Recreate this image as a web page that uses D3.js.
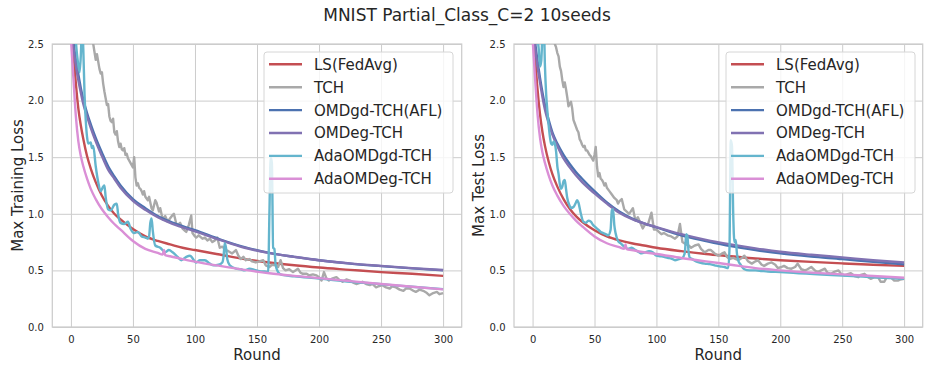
<!DOCTYPE html>
<html lang="en">
<head>
<meta charset="UTF-8">
<title>MNIST Partial_Class_C=2 10seeds</title>
<script src="https://cdn.jsdelivr.net/npm/d3@7"></script>
<style>
    body {
        margin: 0;
        background: white;
    }
    svg text {
        font-family: "DejaVu Sans", sans-serif;
        fill: #262626;
    }
    .tick text {
        font-size: 10px;
    }
    .tick line {
        stroke: #cccccc;
        stroke-width: 1;
    }
    .axis-title {
        font-size: 15px;
    }
    .legend text {
        font-size: 15px;
    }
</style>
</head>
<body>
<script>
    var seriesNames = ['LS(FedAvg)', 'TCH', 'OMDgd-TCH(AFL)', 'OMDeg-TCH', 'AdaOMDgd-TCH', 'AdaOMDeg-TCH'];
    var seriesColors = ['#C44E52', '#A9A9A9', '#4C72B0', '#8172B2', '#64B5CD', '#DA8FD6'];
    var xTicks = [0, 50, 100, 150, 200, 250, 300];
    var yTicks = [0.0, 0.5, 1.0, 1.5, 2.0, 2.5];

    var smoothRounds = [0, 2, 4, 6, 8, 10, 13, 16, 20, 25, 30, 35, 40, 50, 60, 70, 80, 90, 100, 120, 140, 160, 180, 200, 225, 250, 275, 300];

    // ---- training loss ----
    var trainLS = [2.9, 2.45, 2.15, 1.93, 1.78, 1.66, 1.51, 1.40, 1.28, 1.16, 1.07, 1.00, 0.95, 0.865, 0.80, 0.76, 0.73, 0.70, 0.68, 0.64, 0.60, 0.57, 0.545, 0.525, 0.505, 0.485, 0.47, 0.452];
    var trainOMDgd = [2.75, 2.52, 2.36, 2.23, 2.11, 2.01, 1.89, 1.79, 1.67, 1.54, 1.42, 1.33, 1.25, 1.13, 1.05, 0.98, 0.93, 0.89, 0.855, 0.775, 0.705, 0.655, 0.62, 0.59, 0.56, 0.538, 0.518, 0.50];
    var trainOMDeg = [2.7, 2.47, 2.31, 2.18, 2.07, 1.97, 1.86, 1.76, 1.64, 1.51, 1.39, 1.31, 1.23, 1.115, 1.035, 0.97, 0.92, 0.88, 0.845, 0.77, 0.70, 0.653, 0.62, 0.59, 0.562, 0.54, 0.52, 0.503];
    var trainAdaOMDeg = [[0, 2.55], [2, 2.2], [4, 1.86], [6, 1.64], [8, 1.51], [10, 1.42], [13, 1.31], [16, 1.22], [20, 1.13], [25, 1.04], [30, 0.97], [35, 0.91], [40, 0.86], [50, 0.76], [60, 0.69], [70, 0.655], [74, 0.64], [75, 0.68], [76, 0.635], [80, 0.625], [90, 0.60], [100, 0.578], [120, 0.54], [140, 0.505], [160, 0.475], [180, 0.452], [200, 0.432], [225, 0.405], [250, 0.38], [275, 0.355], [300, 0.332]];
    var trainTCH = [[0, 3.2], [10, 2.85], [16, 2.6], [18, 2.5], [20, 2.36], [21, 2.41], [23, 2.28], [24, 2.24], [25, 2.25], [26, 2.15], [27, 2.08], [28, 2.02], [29, 1.96], [30, 1.97], [31, 1.86], [32, 1.82], [33, 1.81], [34, 1.84], [35, 1.72], [36, 1.70], [37, 1.73], [38, 1.64], [39, 1.59], [40, 1.62], [41, 1.57], [42, 1.56], [43, 1.58], [44, 1.52], [45, 1.53], [46, 1.49], [47, 1.47], [48, 1.45], [49, 1.43], [50, 1.41], [51, 1.50], [52, 1.32], [53, 1.25], [54, 1.27], [55, 1.23], [56, 1.22], [57, 1.20], [58, 1.17], [59, 1.20], [60, 1.15], [62, 1.12], [63, 1.15], [65, 1.05], [66, 1.03], [68, 1.12], [69, 1.10], [71, 1.02], [72, 1.05], [74, 0.95], [76, 0.98], [78, 0.93], [80, 0.96], [82, 0.99], [83, 1.00], [85, 0.91], [86, 0.90], [88, 0.92], [90, 0.87], [92, 0.85], [93, 0.84], [95, 0.90], [97, 0.985], [98, 0.83], [100, 0.80], [101, 0.79], [103, 0.81], [106, 0.78], [108, 0.79], [110, 0.765], [112, 0.78], [114, 0.75], [116, 0.765], [118, 0.79], [120, 0.70], [122, 0.71], [125, 0.68], [127, 0.67], [130, 0.65], [133, 0.68], [135, 0.63], [137, 0.60], [139, 0.62], [141, 0.59], [144, 0.60], [146, 0.58], [149, 0.57], [152, 0.58], [155, 0.59], [157, 0.545], [160, 0.53], [162, 0.55], [165, 0.545], [167, 0.53], [169, 0.59], [171, 0.52], [173, 0.50], [176, 0.51], [179, 0.485], [181, 0.50], [183, 0.515], [185, 0.48], [187, 0.47], [190, 0.47], [192, 0.456], [195, 0.465], [198, 0.456], [200, 0.44], [202, 0.41], [204, 0.485], [206, 0.43], [208, 0.41], [211, 0.43], [214, 0.44], [216, 0.42], [219, 0.40], [222, 0.42], [225, 0.41], [228, 0.39], [230, 0.38], [233, 0.39], [235, 0.40], [238, 0.38], [241, 0.37], [243, 0.38], [246, 0.35], [248, 0.36], [251, 0.37], [254, 0.35], [257, 0.34], [259, 0.36], [262, 0.35], [265, 0.33], [268, 0.32], [270, 0.34], [273, 0.34], [276, 0.32], [278, 0.31], [281, 0.33], [284, 0.32], [287, 0.30], [289, 0.28], [292, 0.30], [295, 0.31], [297, 0.29], [300, 0.30]];
    var trainAdaOMDgd = [[0, 2.6], [3, 2.6], [5, 2.4], [7, 2.25], [8, 2.4], [9, 2.7], [10, 2.45], [11, 2.05], [12, 1.82], [13, 1.68], [14, 1.62], [16, 1.63], [17, 1.58], [18, 1.60], [20, 1.42], [22, 1.28], [24, 1.20], [26, 1.24], [27, 1.25], [28, 1.15], [30, 1.04], [32, 1.03], [35, 1.08], [37, 1.09], [38, 1.0], [40, 0.92], [43, 0.91], [46, 0.93], [48, 0.87], [51, 0.83], [54, 0.84], [57, 0.80], [60, 0.79], [62, 0.78], [63, 0.80], [64, 0.92], [65, 0.96], [66, 0.85], [68, 0.72], [72, 0.70], [76, 0.66], [79, 0.68], [82, 0.66], [86, 0.62], [89, 0.59], [93, 0.62], [96, 0.63], [101, 0.57], [104, 0.59], [108, 0.59], [112, 0.56], [115, 0.545], [119, 0.55], [122, 0.57], [123, 0.62], [124, 0.74], [125, 0.70], [126, 0.60], [128, 0.545], [133, 0.515], [137, 0.51], [140, 0.50], [144, 0.515], [148, 0.505], [152, 0.494], [156, 0.49], [159, 0.485], [160, 1.0], [161, 1.50], [162, 1.45], [163, 0.70], [164, 0.69], [165, 0.55], [167, 0.485], [170, 0.46], [180, 0.448], [200, 0.428], [225, 0.40], [250, 0.378], [275, 0.355], [300, 0.335]];

    // ---- test loss ----
    var testLS = [2.9, 2.4, 2.1, 1.88, 1.72, 1.60, 1.46, 1.35, 1.24, 1.13, 1.045, 0.98, 0.93, 0.855, 0.80, 0.765, 0.74, 0.72, 0.70, 0.67, 0.645, 0.625, 0.605, 0.59, 0.575, 0.562, 0.55, 0.54];
    var testOMDgd = [2.75, 2.52, 2.35, 2.2, 2.07, 1.96, 1.83, 1.72, 1.62, 1.52, 1.44, 1.37, 1.31, 1.20, 1.10, 1.02, 0.96, 0.915, 0.88, 0.81, 0.76, 0.715, 0.68, 0.65, 0.622, 0.60, 0.575, 0.553];
    var testOMDeg = [2.7, 2.47, 2.30, 2.16, 2.03, 1.92, 1.80, 1.70, 1.60, 1.49, 1.41, 1.34, 1.28, 1.18, 1.09, 1.01, 0.955, 0.915, 0.882, 0.82, 0.77, 0.73, 0.695, 0.665, 0.638, 0.615, 0.59, 0.57];
    var testAdaOMDeg = [[0, 2.55], [2, 2.2], [4, 1.88], [6, 1.67], [8, 1.54], [10, 1.45], [13, 1.34], [16, 1.25], [20, 1.16], [25, 1.07], [30, 1.0], [35, 0.94], [40, 0.89], [50, 0.80], [60, 0.74], [70, 0.705], [74, 0.69], [75, 0.73], [76, 0.688], [80, 0.68], [90, 0.66], [100, 0.645], [120, 0.61], [140, 0.58], [160, 0.55], [180, 0.52], [200, 0.50], [225, 0.48], [250, 0.465], [275, 0.45], [300, 0.435]];
    var testTCH = [[0, 3.2], [10, 2.85], [16, 2.6], [18, 2.5], [19, 2.47], [20, 2.42], [21, 2.39], [22, 2.30], [23, 2.26], [24, 2.18], [25, 2.12], [26, 2.16], [27, 2.10], [28, 2.03], [29, 1.95], [30, 1.97], [31, 1.99], [32, 1.93], [33, 1.83], [34, 1.80], [35, 1.77], [36, 1.74], [37, 1.72], [38, 1.66], [39, 1.64], [40, 1.61], [41, 1.59], [42, 1.60], [43, 1.56], [44, 1.56], [45, 1.54], [46, 1.52], [47, 1.51], [48, 1.49], [49, 1.47], [50, 1.52], [51, 1.59], [52, 1.42], [53, 1.33], [54, 1.36], [55, 1.31], [56, 1.30], [57, 1.28], [58, 1.25], [59, 1.27], [60, 1.23], [62, 1.20], [64, 1.17], [66, 1.14], [68, 1.12], [69, 1.09], [70, 1.11], [72, 1.13], [74, 1.04], [76, 1.02], [78, 1.00], [81, 1.05], [83, 0.94], [85, 0.97], [87, 0.92], [89, 0.87], [91, 0.91], [93, 0.90], [96, 1.01], [98, 0.86], [100, 0.86], [102, 0.84], [104, 0.82], [106, 0.83], [109, 0.81], [112, 0.80], [115, 0.78], [117, 0.80], [119, 0.91], [121, 0.75], [124, 0.73], [126, 0.72], [128, 0.70], [131, 0.72], [134, 0.73], [136, 0.69], [139, 0.66], [142, 0.68], [144, 0.68], [147, 0.65], [150, 0.63], [153, 0.65], [155, 0.66], [157, 0.62], [159, 0.60], [162, 0.61], [166, 0.59], [169, 0.61], [171, 0.63], [174, 0.58], [177, 0.56], [180, 0.58], [182, 0.59], [185, 0.55], [187, 0.54], [190, 0.56], [193, 0.57], [196, 0.55], [198, 0.52], [201, 0.53], [203, 0.54], [206, 0.52], [209, 0.515], [212, 0.53], [214, 0.56], [217, 0.51], [220, 0.50], [222, 0.51], [225, 0.53], [228, 0.50], [230, 0.485], [233, 0.50], [236, 0.515], [238, 0.48], [241, 0.47], [244, 0.49], [247, 0.50], [249, 0.47], [252, 0.456], [255, 0.47], [257, 0.476], [260, 0.45], [263, 0.44], [265, 0.46], [268, 0.47], [271, 0.44], [273, 0.426], [276, 0.44], [279, 0.44], [281, 0.40], [284, 0.40], [286, 0.44], [289, 0.44], [292, 0.41], [295, 0.41], [297, 0.42], [300, 0.425]];
    var testAdaOMDgd = [[0, 2.6], [3, 2.6], [5, 2.45], [6, 2.3], [7, 2.35], [8, 2.6], [9, 2.7], [10, 2.3], [11, 2.05], [12, 1.9], [13, 1.78], [14, 1.68], [15, 1.62], [16, 1.61], [17, 1.64], [18, 1.62], [19, 1.55], [20, 1.42], [21, 1.35], [22, 1.26], [23, 1.22], [24, 1.24], [25, 1.29], [26, 1.30], [27, 1.22], [28, 1.14], [30, 1.07], [31, 1.05], [33, 1.06], [35, 1.10], [36, 1.12], [37, 1.10], [39, 1.00], [41, 0.93], [43, 0.92], [45, 0.94], [47, 0.93], [49, 0.90], [51, 0.88], [53, 0.86], [55, 0.84], [57, 0.83], [59, 0.82], [61, 0.81], [63, 0.86], [64, 1.03], [65, 1.04], [66, 0.90], [67, 0.83], [69, 0.76], [71, 0.74], [74, 0.71], [77, 0.69], [80, 0.70], [83, 0.68], [86, 0.66], [88, 0.65], [91, 0.66], [94, 0.67], [97, 0.66], [100, 0.63], [103, 0.625], [106, 0.62], [109, 0.61], [112, 0.605], [115, 0.59], [118, 0.60], [121, 0.61], [123, 0.66], [124, 0.82], [125, 0.80], [126, 0.66], [127, 0.61], [129, 0.60], [132, 0.58], [135, 0.57], [139, 0.56], [143, 0.555], [147, 0.545], [151, 0.535], [155, 0.53], [158, 0.52], [159, 0.70], [160, 1.65], [161, 1.60], [162, 1.0], [163, 0.75], [164, 0.77], [165, 0.65], [166, 0.59], [168, 0.55], [171, 0.51], [175, 0.50], [180, 0.50], [185, 0.495], [190, 0.49], [200, 0.485], [215, 0.475], [230, 0.465], [250, 0.455], [275, 0.44], [300, 0.425]];

    function zipRounds(values) {
        return values.map(function(v, i) {
            return [smoothRounds[i], v];
        });
    }

    var panels = [{
        left: 52.3,
        right: 461.7,
        ylabel: 'Max Training Loss',
        ylabelX: 23,
        legendX: 264,
        data: [zipRounds(trainLS), trainTCH, zipRounds(trainOMDgd), zipRounds(trainOMDeg), trainAdaOMDgd, trainAdaOMDeg]
    }, {
        left: 514,
        right: 922.7,
        ylabel: 'Max Test Loss',
        ylabelX: 484,
        legendX: 726,
        data: [zipRounds(testLS), testTCH, zipRounds(testOMDgd), zipRounds(testOMDeg), testAdaOMDgd, testAdaOMDeg]
    }];

    var plotTop = 44,
        plotBottom = 327;

    var svg = d3.select('body')
        .append('svg')
        .attr('width', 934)
        .attr('height', 374);

    svg.append('text')
        .attr('x', 467)
        .attr('y', 21)
        .attr('text-anchor', 'middle')
        .style('font-size', '17px')
        .text('MNIST Partial_Class_C=2 10seeds');

    panels.forEach(function(p, pi) {
        var x = d3.scaleLinear().domain([-15, 315]).range([p.left, p.right]);
        var y = d3.scaleLinear().domain([0, 2.5]).range([plotBottom, plotTop]);
        var g = svg.append('g');

        // grid through the axes
        var xAxis = g.append('g')
            .attr('transform', 'translate(0,' + plotBottom + ')')
            .call(d3.axisBottom(x).tickValues(xTicks).tickSize(-(plotBottom - plotTop)).tickPadding(9).tickFormat(d3.format('d')));
        var yAxis = g.append('g')
            .attr('transform', 'translate(' + p.left + ',0)')
            .call(d3.axisLeft(y).tickValues(yTicks).tickSize(-(p.right - p.left)).tickPadding(8.5).tickFormat(d3.format('.1f')));
        [xAxis, yAxis].forEach(function(a) {
            a.select('.domain').remove();
            a.attr('font-family', null).attr('font-size', null);
        });

        // frame
        g.append('rect')
            .attr('x', p.left)
            .attr('y', plotTop)
            .attr('width', p.right - p.left)
            .attr('height', plotBottom - plotTop)
            .attr('fill', 'none')
            .attr('stroke', '#cccccc')
            .attr('stroke-width', 1.25);

        g.append('clipPath')
            .attr('id', 'clip' + pi)
            .append('rect')
            .attr('x', p.left)
            .attr('y', plotTop)
            .attr('width', p.right - p.left)
            .attr('height', plotBottom - plotTop);

        var lines = g.append('g').attr('clip-path', 'url(#clip' + pi + ')');
        p.data.forEach(function(d, i) {
            var line = d3.line()
                .x(function(e) { return x(e[0]); })
                .y(function(e) { return y(e[1]); })
                .curve(i === 1 ? d3.curveLinear : d3.curveMonotoneX);
            lines.append('path')
                .attr('d', line(d))
                .attr('fill', 'none')
                .attr('stroke', seriesColors[i])
                .attr('stroke-width', 2.4)
                .attr('stroke-linejoin', 'round');
        });

        // axis titles
        g.append('text')
            .attr('class', 'axis-title')
            .attr('x', (p.left + p.right) / 2)
            .attr('y', 360)
            .attr('text-anchor', 'middle')
            .text('Round');
        g.append('text')
            .attr('class', 'axis-title')
            .attr('transform', 'translate(' + p.ylabelX + ',' + ((plotTop + plotBottom) / 2) + ') rotate(-90)')
            .attr('text-anchor', 'middle')
            .text(p.ylabel);

        // legend
        var lg = g.append('g').attr('class', 'legend');
        lg.append('rect')
            .attr('x', p.legendX)
            .attr('y', 52)
            .attr('width', 189)
            .attr('height', 141)
            .attr('rx', 3)
            .attr('fill', 'white')
            .attr('fill-opacity', 0.8)
            .attr('stroke', '#d6d6d6');
        seriesNames.forEach(function(name, i) {
            var ly = 64.3 + i * 22.9;
            lg.append('line')
                .attr('x1', p.legendX + 5)
                .attr('x2', p.legendX + 38)
                .attr('y1', ly)
                .attr('y2', ly)
                .attr('stroke', seriesColors[i])
                .attr('stroke-width', 2.4);
            lg.append('text')
                .attr('x', p.legendX + 50)
                .attr('y', ly)
                .attr('dy', '0.36em')
                .text(name);
        });
    });
</script>
</body>
</html>
